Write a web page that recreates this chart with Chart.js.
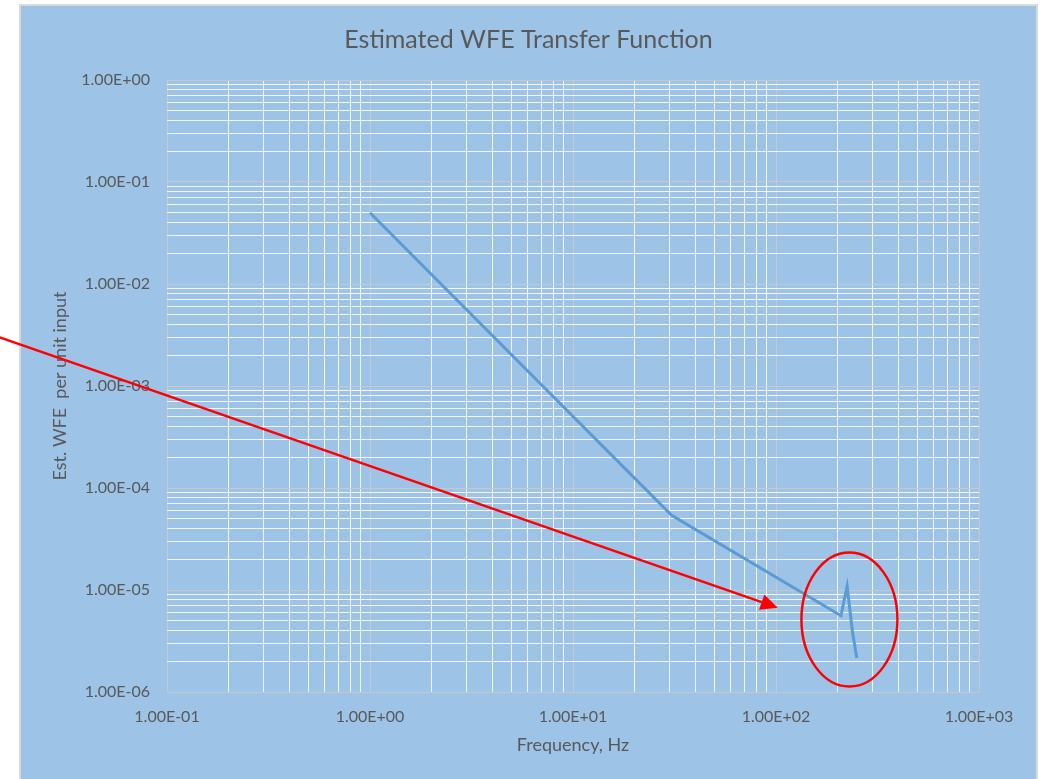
<!DOCTYPE html>
<html>
<head>
<meta charset="utf-8">
<script src="https://cdn.jsdelivr.net/npm/chart.js@4.4.0/dist/chart.umd.min.js"></script>
<style>
  html, body { margin: 0; padding: 0; background: #fff; }
  #wrap { width: 1049px; height: 779px; }
</style>
</head>
<body>
<div id="wrap"><canvas id="myChart" width="1049" height="779"></canvas></div>
<script>
// data
let freqHz = [1.0, 30.6, 209, 224, 238, 250];
let wfe = [5.0e-2, 5.4e-5, 5.6e-6, 1.09e-5, 3.9e-6, 2.15e-6];

let xDecades = [0.1, 1, 10, 100, 1000];
let xTickLabels = ['1.00E-01', '1.00E+00', '1.00E+01', '1.00E+02', '1.00E+03'];
let yDecades = [1e-6, 1e-5, 1e-4, 1e-3, 1e-2, 1e-1, 1];
let yTickLabels = ['1.00E-06', '1.00E-05', '1.00E-04', '1.00E-03', '1.00E-02', '1.00E-01', '1.00E+00'];

// annotation (red arrow + circle), in data units
let arrowFrom = { x: 0.015, y: 3.0e-3 };
let arrowTo = { x: 102, y: 6.7e-6 };
let circleAt = { x: 230, y: 5.14e-6 };

let textColor = '#595959';

function gridValues(decades) {
    let vals = [];
    for (let i = 0; i < decades.length; i++) {
        vals.push(decades[i]);
        if (i < decades.length - 1) {
            for (let k = 2; k <= 9; k++) vals.push(+(decades[i] * k).toPrecision(3));
        }
    }
    return vals;
}

function decadeLabel(value, decades, labels) {
    for (let i = 0; i < decades.length; i++) {
        if (Math.abs(value / decades[i] - 1) < 1e-6) return labels[i];
    }
    return '';
}

function gridColor(ctx) {
    let v = ctx.tick ? ctx.tick.value : 0;
    let l = Math.log10(v);
    return Math.abs(l - Math.round(l)) < 1e-6 ? '#C6C8CA' : '#F2F6FA';
}

const background = {
    id: 'background',
    beforeDraw(chart) {
        let c = chart.ctx;
        c.save();
        c.fillStyle = '#ffffff';
        c.fillRect(0, 0, chart.width, chart.height);
        c.fillStyle = '#9DC3E6';
        c.fillRect(21, 6, 1015, chart.height);
        c.strokeStyle = '#D9D9D9';
        c.lineWidth = 2;
        c.strokeRect(20, 5, 1017, chart.height + 5);
        c.restore();
    }
};

const annotations = {
    id: 'annotations',
    afterDraw(chart) {
        let c = chart.ctx;
        let xs = chart.scales.x, ys = chart.scales.y;
        let x0 = xs.getPixelForValue(arrowFrom.x), y0 = ys.getPixelForValue(arrowFrom.y);
        let x1 = xs.getPixelForValue(arrowTo.x), y1 = ys.getPixelForValue(arrowTo.y);
        let ang = Math.atan2(y1 - y0, x1 - x0);
        let headLen = 17, headW = 8;
        let bx = x1 - headLen * Math.cos(ang), by = y1 - headLen * Math.sin(ang);
        c.save();
        c.strokeStyle = '#FF0000';
        c.fillStyle = '#FF0000';
        c.lineWidth = 2.5;
        c.beginPath();
        c.moveTo(x0, y0);
        c.lineTo(bx, by);
        c.stroke();
        c.beginPath();
        c.moveTo(x1, y1);
        c.lineTo(bx + headW * Math.sin(ang), by - headW * Math.cos(ang));
        c.lineTo(bx - headW * Math.sin(ang), by + headW * Math.cos(ang));
        c.closePath();
        c.fill();
        // circle round the resonance
        let cx = xs.getPixelForValue(circleAt.x), cy = ys.getPixelForValue(circleAt.y);
        c.lineWidth = 2.5;
        c.beginPath();
        c.ellipse(cx, cy, 48, 67, 0, 0, Math.PI * 2);
        c.stroke();
        c.restore();
    }
};

let myChart = document.getElementById('myChart').getContext('2d');

let chart1 = new Chart(myChart, {
    type: 'line',
    data: {
        datasets: [{
            data: freqHz.map((f, i) => ({ x: f, y: wfe[i] })),
            borderColor: '#5B9BD5',
            borderWidth: 3,
            pointRadius: 0,
            tension: 0,
            fill: false
        }]
    },
    plugins: [background, annotations],
    options: {
        responsive: false,
        animation: false,
        layout: { padding: { left: 21, top: 6, right: 13, bottom: 0 } },
        plugins: {
            legend: { display: false },
            tooltip: { enabled: false },
            title: {
                display: true,
                text: 'Estimated WFE Transfer Function',
                color: textColor,
                font: { family: 'Lato', size: 25, weight: 'normal' },
                padding: { top: 19, bottom: 25 }
            }
        },
        scales: {
            x: {
                type: 'logarithmic',
                min: 0.1,
                max: 1000,
                afterBuildTicks: (scale) => { scale.ticks = gridValues(xDecades).map(v => ({ value: v })); },
                afterFit: (scale) => { scale.height = 87; },
                ticks: {
                    autoSkip: false,
                    maxRotation: 0,
                    color: textColor,
                    font: { family: 'Lato', size: 16 },
                    padding: 15,
                    callback: (v) => decadeLabel(v, xDecades, xTickLabels)
                },
                grid: { color: gridColor, lineWidth: 1, drawTicks: false },
                border: { display: false },
                title: {
                    display: true,
                    text: 'Frequency, Hz',
                    color: textColor,
                    font: { family: 'Lato', size: 18 },
                    padding: { top: 0, bottom: 23 }
                }
            },
            y: {
                type: 'logarithmic',
                min: 1e-6,
                max: 1,
                afterBuildTicks: (scale) => { scale.ticks = gridValues(yDecades).map(v => ({ value: v })); },
                afterFit: (scale) => { scale.width = 146; },
                ticks: {
                    autoSkip: false,
                    color: textColor,
                    font: { family: 'Lato', size: 16 },
                    padding: 17,
                    callback: (v) => decadeLabel(v, yDecades, yTickLabels)
                },
                grid: { color: gridColor, lineWidth: 1, drawTicks: false },
                border: { display: false },
                title: {
                    display: true,
                    text: 'Est. WFE  per unit input',
                    color: textColor,
                    font: { family: 'Lato', size: 18 },
                    padding: { top: 28, bottom: 0 }
                }
            },
            y2: {
                type: 'linear',
                position: 'right',
                min: 0,
                max: 1,
                afterFit: (scale) => { scale.width = 57; },
                ticks: { display: false },
                grid: { display: false },
                border: { display: false }
            }
        }
    }
});
</script>
</body>
</html>
